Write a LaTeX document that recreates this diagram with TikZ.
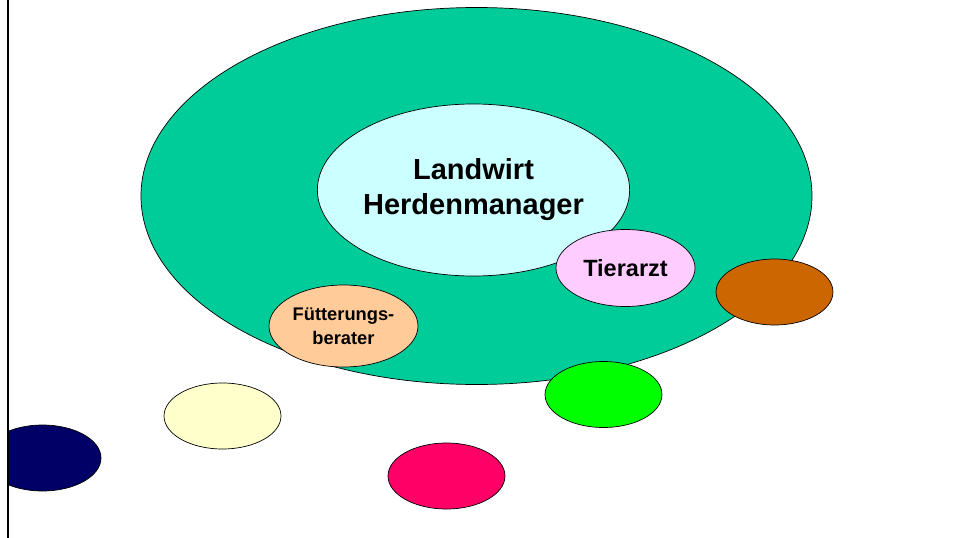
\documentclass[tikz,border=0pt]{standalone}
\usepackage{fontspec}
\setmainfont{Liberation Sans}
\usetikzlibrary{shapes.geometric}

\definecolor{herde}{HTML}{00CC99}
\definecolor{landwirt}{HTML}{CCFFFF}
\definecolor{tierarzt}{HTML}{FFCCFF}
\definecolor{berater}{HTML}{FFCC99}
\definecolor{braun}{HTML}{CC6600}
\definecolor{gruen}{HTML}{00FF00}
\definecolor{gelb}{HTML}{FFFFCC}
\definecolor{rot}{HTML}{FF0066}
\definecolor{marine}{HTML}{000066}

\tikzset{
  blob/.style={ellipse, draw=black, line width=0.7pt, inner sep=0pt, align=center},
  klein/.style={blob, minimum width=117, minimum height=66}
}

\begin{document}
\begin{tikzpicture}[x=1pt, y=-1pt]
\useasboundingbox (0,0) rectangle (956,538);

\node[blob, fill=herde, minimum width=671, minimum height=377] (herde) at (476.5,196) {};
\node[blob, fill=landwirt, minimum width=309, minimum height=172,
  font=\bfseries\fontsize{29}{35}\selectfont] (landwirt) at (473.5,190) {Landwirt\\Herdenmanager};
\node[blob, fill=tierarzt, minimum width=139, minimum height=77,
  font=\bfseries\fontsize{23.5}{28}\selectfont] (tierarzt) at (625.5,268) {Tierarzt};
\node[blob, fill=berater, minimum width=149, minimum height=82,
  font=\bfseries\fontsize{18.3}{24}\selectfont] (berater) at (343.5,326) {Fütterungs-\\berater};

\node[klein, fill=braun] (braun) at (774.5,292) {};
\node[klein, fill=gruen] (gruen) at (603.5,394.5) {};
\node[klein, fill=gelb] (gelb) at (222.5,416) {};
\node[klein, fill=rot] (rot) at (446.5,476) {};

\begin{scope}
\clip (7.5,0) rectangle (956,538);
\node[klein, fill=marine] (marine) at (42.5,458) {};
\end{scope}

\draw[line width=2pt] (7.5,0) -- (7.5,538);
\end{tikzpicture}
\end{document}
